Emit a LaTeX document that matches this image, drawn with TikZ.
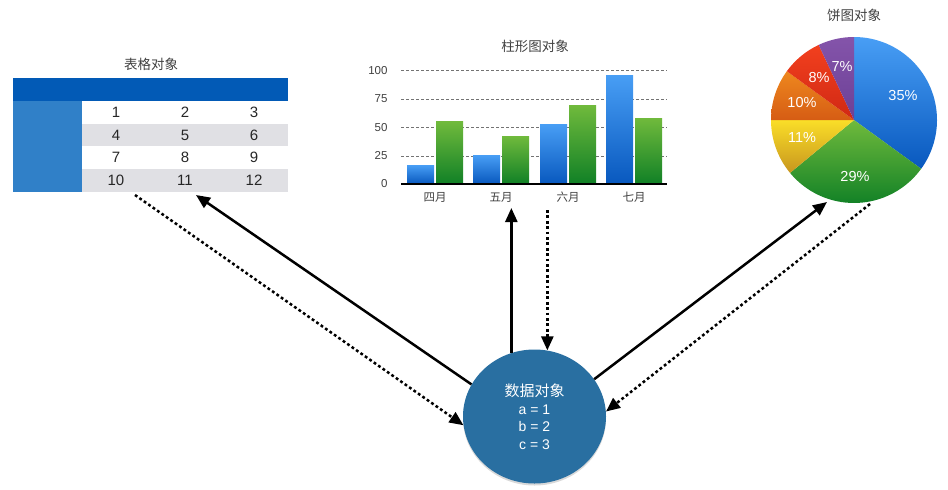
\documentclass[tikz,border=0pt]{standalone}
\usepackage{fontspec}
\setmainfont{Liberation Sans}
\newfontfamily\cjk{Noto Sans CJK SC}
\usetikzlibrary{arrows.meta,positioning,shapes.geometric,shadows}
\definecolor{headblue}{RGB}{2,90,182}
\definecolor{sideblue}{RGB}{48,128,200}
\definecolor{rowgray}{RGB}{224,224,228}
\definecolor{datablue}{RGB}{41,111,161}
\definecolor{bluetop}{RGB}{72,158,245}
\definecolor{bluebot}{RGB}{8,88,190}
\definecolor{greentop}{RGB}{112,186,60}
\definecolor{greenbot}{RGB}{16,128,38}
\definecolor{yellowtop}{RGB}{250,222,40}
\definecolor{yellowbot}{RGB}{200,150,30}
\definecolor{orangetop}{RGB}{238,136,30}
\definecolor{orangebot}{RGB}{214,92,20}
\definecolor{redtop}{RGB}{242,64,30}
\definecolor{redbot}{RGB}{208,40,20}
\definecolor{purpletop}{RGB}{132,84,170}
\definecolor{purplebot}{RGB}{108,64,150}
\definecolor{labelgray}{RGB}{64,64,64}

\begin{document}
\begin{tikzpicture}[x=1pt, y=-1pt,
  title/.style={font=\cjk\fontsize{13.5}{15}\selectfont, text=labelgray},
  cell/.style={font=\fontsize{15}{17}\selectfont, text=black!85},
  axislabel/.style={font=\fontsize{11.5}{13}\selectfont, text=labelgray, anchor=east},
  monthlabel/.style={font=\cjk\fontsize{11.5}{13}\selectfont, text=labelgray},
  pielabel/.style={font=\fontsize{14.5}{16}\selectfont, text=white},
  grid/.style={draw=black!55, dash pattern=on 2.5pt off 2.5pt, line width=0.8pt},
  bluebar/.style={top color=bluetop, bottom color=bluebot},
  greenbar/.style={top color=greentop, bottom color=greenbot},
  arrow/.style={-{Triangle[length=14pt,width=12pt]}, line width=2.5pt},
  dotarrow/.style={arrow, dash pattern=on 2.8pt off 2.6pt},
  datanode/.style={ellipse, minimum width=143pt, minimum height=134pt, fill=datablue,
                   text=white, align=center, font=\fontsize{14}{17.5}\selectfont,
                   drop shadow={opacity=0.3, shadow xshift=0pt, shadow yshift=-2pt}}
]
  \useasboundingbox (0,0) rectangle (948,490);

  % table
  \node[title] (tabletitle) at (151,64) {表格对象};
  \fill[headblue] (13,78) rectangle (288,101);
  \fill[sideblue] (13,101) rectangle (82,192);
  \fill[rowgray] (82,124) rectangle (288,146);
  \fill[rowgray] (82,169) rectangle (288,192);
  \foreach \r/\y in {0/112.5, 1/135, 2/157.5, 3/180.5}
    \foreach \c/\x in {1/116, 2/185, 3/254}
      \node[cell] (cell\r\c) at (\x,\y) {\pgfmathparse{int(3*\r+\c)}\pgfmathresult};

  % bar chart
  \node[title] (bartitle) at (535,46) {柱形图对象};
  \foreach \v/\y in {25/156, 50/127.5, 75/99, 100/70.5} {
    \draw[grid] (401,\y) -- (667,\y);
    \node[axislabel] (tick\v) at (391,\y) {\v};
  }
  \node[axislabel] (tick0) at (391,184) {0};
  \foreach \x/\t in {407/165, 473/155, 540/124, 606/75}
    \shade[bluebar] (\x,184) rectangle (\x+27,\t);
  \foreach \x/\t in {436/121.5, 502/136, 569/105, 635/118}
    \shade[greenbar] (\x,184) rectangle (\x+27,\t);
  \draw[line width=1.5pt] (401,184) -- (667,184);
  \foreach \m/\x in {四月/435, 五月/501, 六月/568, 七月/634}
    \node[monthlabel] (month\x) at (\x,197) {\m};

  % pie chart
  \node[title] (pietitle) at (854,15) {饼图对象};
  \coordinate (pie) at (854,120);
  \foreach \a/\b/\c in {-90/36/blue, 36/140.4/green, 140.4/180/yellow,
                        180/216/orange, 216/244.8/red, 244.8/270/purple}
    \shade[top color=\c top, bottom color=\c bot]
      (pie) -- ++(\a:83) arc[start angle=\a, end angle=\b, radius=83] -- cycle;
  \foreach \v/\x/\y in {35/903/96, 29/855/177, 11/802/138, 10/802/103, 8/819/78, 7/842/67}
    \node[pielabel] (pct\v) at (\x,\y) {\v\%};

  % data object
  \node[datanode] (data) at (534.5,416.5) {{\cjk\fontsize{15}{17.5}\selectfont 数据对象}\\a = 1\\b = 2\\c = 3};

  \coordinate (tabOut) at (135,195);
  \coordinate (tabIn) at (196,195);
  \coordinate (barIn) at (511,208);
  \coordinate (barOut) at (547,210);
  \coordinate (pieIn) at (827,202);
  \coordinate (pieOut) at (870,204);

  \draw[arrow] (data.153) -- (tabIn);
  \draw[dotarrow] (tabOut) -- (data.187);
  \draw[arrow] (data.110) -- (data.110 |- barIn);
  \draw[dotarrow] (data.79 |- barOut) -- (data.79);
  \draw[arrow] (data.32) -- (pieIn);
  \draw[dotarrow] (pieOut) -- (data.4);
\end{tikzpicture}
\end{document}
